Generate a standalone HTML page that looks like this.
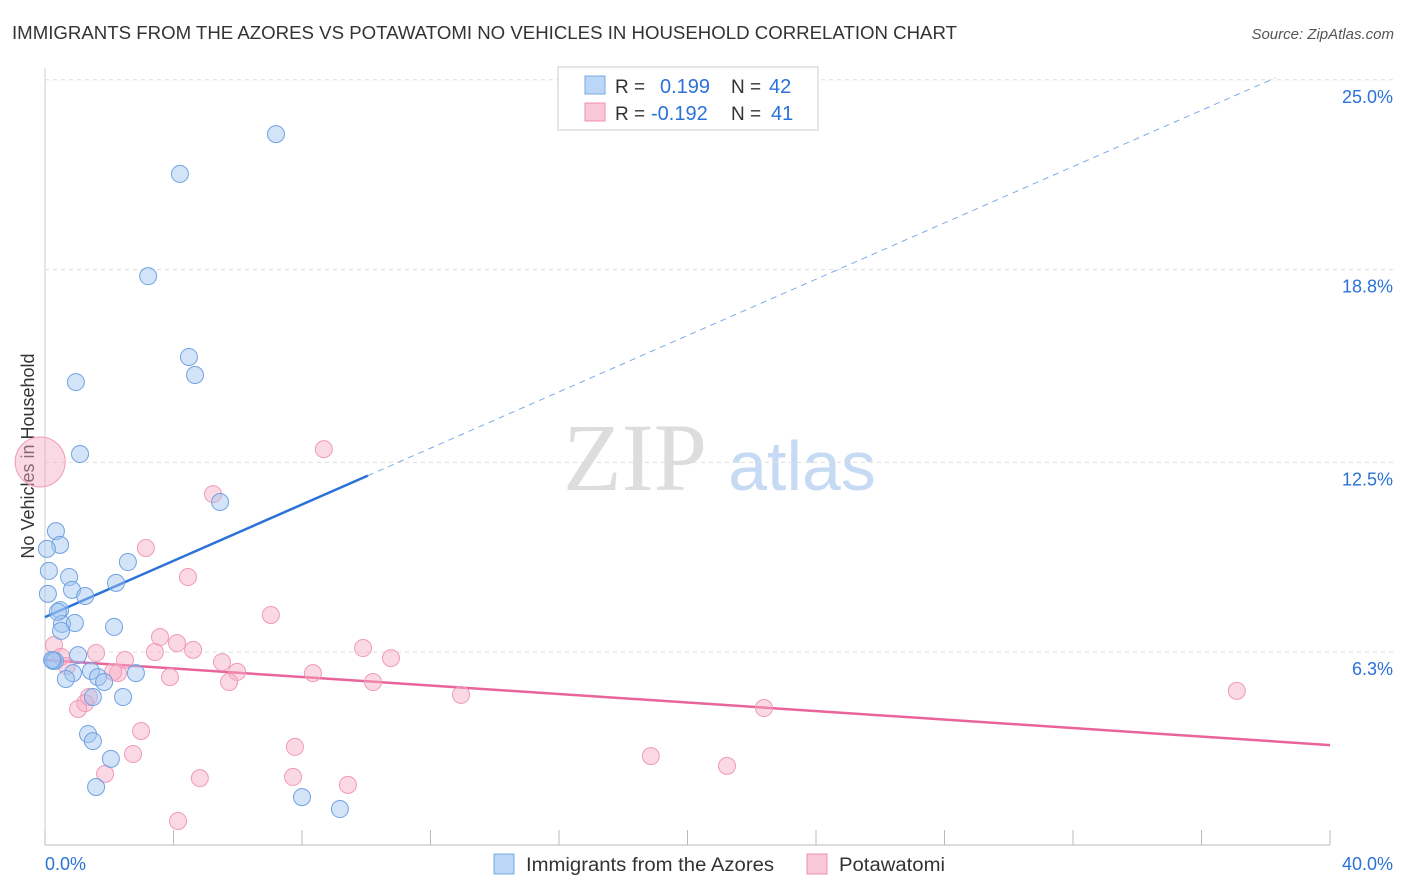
<!DOCTYPE html>
<html><head><meta charset="utf-8"><style>
body{margin:0;background:#fff;font-family:"Liberation Sans",sans-serif}
#wrap{position:relative;width:1406px;height:892px;overflow:hidden}
</style></head><body>
<div id="wrap">
<svg id="svg" width="1406" height="892" xmlns="http://www.w3.org/2000/svg">
<text x="12" y="39" font-size="18" fill="#333" textLength="945" lengthAdjust="spacingAndGlyphs">IMMIGRANTS FROM THE AZORES VS POTAWATOMI NO VEHICLES IN HOUSEHOLD CORRELATION CHART</text>
<text x="1394" y="39" font-size="15" fill="#555" text-anchor="end" font-style="italic">Source: ZipAtlas.com</text>
<text x="34" y="456" font-size="18" fill="#333" transform="rotate(-90 34 456)" text-anchor="middle">No Vehicles in Household</text>
<g><text x="635" y="490" font-family="Liberation Serif,serif" font-size="96" fill="#ddd" text-anchor="middle">ZIP</text><text x="802" y="490" font-size="70" fill="#c6dbf3" text-anchor="middle">atlas</text></g>
<g id="grid"></g><g id="axes"></g><g id="lines"></g><g id="pts"></g>
<g>
<rect x="558" y="67" width="260" height="63" fill="#fff" stroke="#ccc"/>
<rect x="585" y="76" width="20" height="18" fill="#bcd6f7" stroke="#7aaae6"/>
<rect x="585" y="103" width="20" height="18" fill="#f9c8d8" stroke="#f08fb0"/>
<text x="615" y="93" font-size="19" fill="#333">R =</text>
<text x="660" y="93" font-size="20" fill="#2a72d8">0.199</text>
<text x="731" y="93" font-size="19" fill="#333">N =</text>
<text x="769" y="93" font-size="20" fill="#2a72d8">42</text>
<text x="615" y="120" font-size="19" fill="#333">R =</text>
<text x="651" y="120" font-size="20" fill="#2a72d8">-0.192</text>
<text x="731" y="120" font-size="19" fill="#333">N =</text>
<text x="771" y="120" font-size="20" fill="#2a72d8">41</text>
</g>
<g>
<rect x="494" y="854" width="20" height="20" fill="#bcd6f7" stroke="#7aaae6"/>
<text x="526" y="871" font-size="19" fill="#333" textLength="248" lengthAdjust="spacingAndGlyphs">Immigrants from the Azores</text>
<rect x="807" y="854" width="20" height="20" fill="#f9c8d8" stroke="#f08fb0"/>
<text x="839" y="871" font-size="19" fill="#333" textLength="106" lengthAdjust="spacingAndGlyphs">Potawatomi</text>
</g>
</svg></div>
<script>
const blueX=[7.19,4.20,3.21,4.48,4.67,0.96,1.09,5.45,0.34,0.47,0.06,0.12,2.58,0.75,0.84,2.21,1.25,0.09,0.47,0.53,0.93,0.50,2.15,1.03,0.25,0.31,1.43,0.87,1.65,1.84,2.83,0.65,1.49,2.43,1.34,1.49,2.05,1.59,8.00,9.18,0.22,0.40];
const blueY=[23.78,22.48,19.14,16.50,15.91,15.68,13.33,11.76,10.81,10.36,10.23,9.51,9.80,9.31,8.89,9.12,8.69,8.76,8.23,7.78,7.81,7.55,7.68,6.76,6.57,6.57,6.24,6.17,6.04,5.88,6.17,5.98,5.39,5.39,4.18,3.95,3.37,2.45,2.12,1.73,6.60,8.17];
const pinkX=[-0.15,8.68,5.23,3.14,4.45,7.03,3.58,4.11,3.42,4.61,9.90,0.28,10.77,1.59,0.50,2.49,5.51,0.68,5.98,2.27,8.34,3.89,5.73,10.21,12.95,1.37,1.25,1.03,37.10,22.38,2.99,7.78,2.74,18.86,21.23,1.87,4.82,7.72,9.43,4.14,2.12];
const pinkY=[13.07,13.49,12.02,10.26,9.31,8.07,7.35,7.15,6.86,6.93,6.99,7.09,6.66,6.83,6.70,6.60,6.53,6.40,6.21,6.17,6.17,6.04,5.88,5.88,5.46,5.39,5.19,5.00,5.59,5.03,4.28,3.76,3.53,3.46,3.14,2.88,2.74,2.78,2.52,1.34,6.21];
const pinkR=[25];
const blueTrend=[8.00,0.46];
const pinkTrend=[6.60,-0.0695];
const yTicks=[25.0,18.8,12.5,6.3];
const yTickLabels=["25.0%","18.8%","12.5%","6.3%"];
const xTickCount=10;
const NS="http://www.w3.org/2000/svg";
const xs=v=>45+v*1285/40;
const ys=v=>862-v*30.608;
function mk(tag,attrs,parent){const e=document.createElementNS(NS,tag);for(const k in attrs)e.setAttribute(k,attrs[k]);document.getElementById(parent).appendChild(e);return e;}
yTicks.forEach((t,i)=>{
 const g=mk('line',{x1:45,x2:1394,y1:ys(t)-17,y2:ys(t)-17,stroke:'#ddd','stroke-dasharray':'4,4'},'grid');
 
 
 const l=mk('text',{x:1393,y:ys(t)+6,'font-size':18,fill:'#2a72d8','text-anchor':'end'},'axes');
 l.textContent=yTickLabels[i];
 
 
});
const ax=mk('line',{x1:45,x2:1330,y1:845,y2:845,stroke:'#bbb'},'axes');


const ay=mk('line',{x1:45,x2:45,y1:68,y2:845,stroke:'#ccc'},'axes');


for(let i=0;i<=xTickCount;i++){const t=mk('line',{x1:xs(i*4),x2:xs(i*4),y1:830,y2:845,stroke:'#bbb'},'axes');
 
 }
const x0=mk('text',{x:45,y:870,'font-size':18,fill:'#2a72d8'},'axes');x0.textContent='0.0%';


const x1=mk('text',{x:1393,y:870,'font-size':18,fill:'#2a72d8','text-anchor':'end'},'axes');x1.textContent='40.0%';


const bS=mk('line',{x1:xs(0),y1:ys(blueTrend[0]),x2:xs(10.05),y2:ys(blueTrend[0]+blueTrend[1]*10.05),stroke:'#2a72d8','stroke-width':2.5},'lines');


const bD=mk('line',{x1:xs(10.05),y1:ys(blueTrend[0]+blueTrend[1]*10.05),x2:xs(38.3),y2:ys(blueTrend[0]+blueTrend[1]*38.3),stroke:'#7aaae6','stroke-width':1,'stroke-dasharray':'6,5'},'lines');


const pL=mk('line',{x1:xs(0),y1:ys(pinkTrend[0]),x2:xs(40),y2:ys(pinkTrend[0]+pinkTrend[1]*40),stroke:'#e8649a','stroke-width':2.5},'lines');


pinkX.forEach((x,i)=>{const c=mk('circle',{cx:xs(x),cy:ys(pinkY[i]),r:i===0?pinkR[0]:8.5,fill:'rgba(246,170,196,0.45)',stroke:'#f09ab8','stroke-width':1},'pts');
 
 });
blueX.forEach((x,i)=>{const c=mk('circle',{cx:xs(x),cy:ys(blueY[i]),r:8.5,fill:'rgba(160,196,240,0.45)',stroke:'#6fa2e2','stroke-width':1},'pts');
 
 });
</script>
</body></html>
